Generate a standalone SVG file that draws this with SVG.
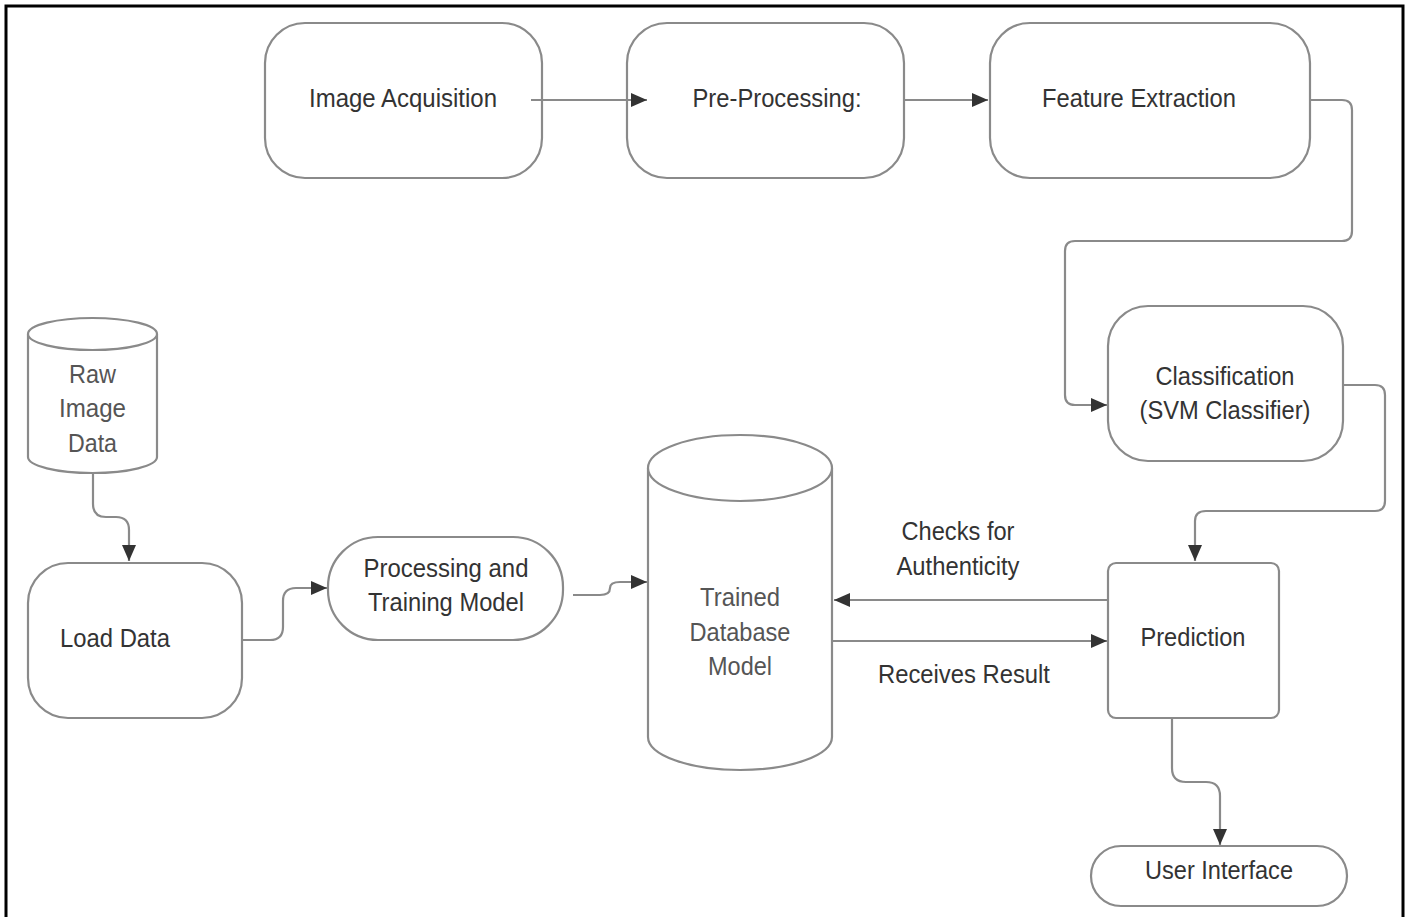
<svg xmlns="http://www.w3.org/2000/svg" width="1408" height="917" viewBox="0 0 1408 917">
<defs>
<style>
.box{fill:#fff;stroke:#8a8a8a;stroke-width:2.2}
.edge{fill:none;stroke:#8a8a8a;stroke-width:2.2}
.t{font-family:"Liberation Sans",Arial,sans-serif;font-size:25px;fill:#333;text-anchor:middle}
.tl{fill:#555}
</style>
<marker id="ah" markerUnits="userSpaceOnUse" markerWidth="18" markerHeight="14" refX="16" refY="7" orient="auto">
<path d="M0,0 L16,7 L0,14 z" fill="#333"/>
</marker>
</defs>
<rect x="0" y="0" width="1408" height="917" fill="#fff"/>
<rect x="6" y="6" width="1397" height="945" fill="none" stroke="#000" stroke-width="3"/>

<g id="image-acquisition">
<rect class="box" x="265" y="23" width="277" height="155" rx="40"/>
<text class="t" x="403" y="107" textLength="188" lengthAdjust="spacingAndGlyphs">Image Acquisition</text>
</g>
<g id="pre-processing">
<rect class="box" x="627" y="23" width="277" height="155" rx="40"/>
<text class="t" x="777" y="107" textLength="169" lengthAdjust="spacingAndGlyphs">Pre-Processing:</text>
</g>
<g id="feature-extraction">
<rect class="box" x="990" y="23" width="320" height="155" rx="40"/>
<text class="t" x="1139" y="107" textLength="194" lengthAdjust="spacingAndGlyphs">Feature Extraction</text>
</g>
<g id="classification">
<rect class="box" x="1108" y="306" width="235" height="155" rx="40"/>
<text class="t" x="1225" y="385" textLength="139" lengthAdjust="spacingAndGlyphs">Classification</text>
<text class="t" x="1225" y="419" textLength="171" lengthAdjust="spacingAndGlyphs">(SVM Classifier)</text>
</g>
<g id="prediction">
<rect class="box" x="1108" y="563" width="171" height="155" rx="8"/>
<text class="t" x="1193" y="646" textLength="105" lengthAdjust="spacingAndGlyphs">Prediction</text>
</g>
<g id="user-interface">
<rect class="box" x="1091" y="846" width="256" height="60" rx="30"/>
<text class="t" x="1219" y="879" textLength="148" lengthAdjust="spacingAndGlyphs">User Interface</text>
</g>
<g id="raw-image-data">
<path class="box" d="M28,334 V457 A64.5,16 0 0 0 157,457 V334"/>
<ellipse class="box" cx="92.5" cy="334" rx="64.5" ry="16"/>
<text class="t tl" x="92.5" y="383" textLength="47" lengthAdjust="spacingAndGlyphs">Raw</text>
<text class="t tl" x="92.5" y="417" textLength="67" lengthAdjust="spacingAndGlyphs">Image</text>
<text class="t tl" x="92.5" y="452" textLength="49" lengthAdjust="spacingAndGlyphs">Data</text>
</g>
<g id="load-data">
<rect class="box" x="28" y="563" width="214" height="155" rx="40"/>
<text class="t" x="115" y="647" textLength="110" lengthAdjust="spacingAndGlyphs">Load Data</text>
</g>
<g id="processing-training">
<rect class="box" x="328" y="537" width="235" height="103" rx="50"/>
<text class="t" x="446" y="577" textLength="165" lengthAdjust="spacingAndGlyphs">Processing and</text>
<text class="t" x="446" y="611" textLength="156" lengthAdjust="spacingAndGlyphs">Training Model</text>
</g>
<g id="trained-database-model">
<path class="box" d="M648,468 V737 A92,33 0 0 0 832,737 V468"/>
<ellipse class="box" cx="740" cy="468" rx="92" ry="33"/>
<text class="t tl" x="740" y="606" textLength="80" lengthAdjust="spacingAndGlyphs">Trained</text>
<text class="t tl" x="740" y="641" textLength="101" lengthAdjust="spacingAndGlyphs">Database</text>
<text class="t tl" x="740" y="675" textLength="64" lengthAdjust="spacingAndGlyphs">Model</text>
</g>

<g id="connectors">
<path class="edge" d="M531,100 H647" marker-end="url(#ah)"/>
<path class="edge" d="M905,100 H988" marker-end="url(#ah)"/>
<path class="edge" d="M1310,100 H1342 Q1352,100 1352,110 V231 Q1352,241 1342,241 H1075 Q1065,241 1065,251 V395 Q1065,405 1075,405 H1107" marker-end="url(#ah)"/>
<path class="edge" d="M1343,385 H1375 Q1385,385 1385,395 V501 Q1385,511 1375,511 H1206 Q1195,511 1195,521 V561" marker-end="url(#ah)"/>
<path class="edge" d="M1172,718 V768 Q1172,782 1186,782 H1206 Q1220,782 1220,796 V845" marker-end="url(#ah)"/>
<path class="edge" d="M93,472 V504 Q93,517 106,517 H116 Q129,517 129,530 V561" marker-end="url(#ah)"/>
<path class="edge" d="M242,640 H270 Q283,640 283,627 V601 Q283,588 296,588 H327" marker-end="url(#ah)"/>
<path class="edge" d="M573,595 H600 Q610,595 610,588 Q610,582 620,582 H647" marker-end="url(#ah)"/>
<path class="edge" d="M1108,600 H834" marker-end="url(#ah)"/>
<path class="edge" d="M832,641 H1107" marker-end="url(#ah)"/>
<text class="t" x="958" y="540" textLength="113" lengthAdjust="spacingAndGlyphs">Checks for</text>
<text class="t" x="958" y="575" textLength="123" lengthAdjust="spacingAndGlyphs">Authenticity</text>
<text class="t" x="964" y="683" textLength="172" lengthAdjust="spacingAndGlyphs">Receives Result</text>
</g>
</svg>
